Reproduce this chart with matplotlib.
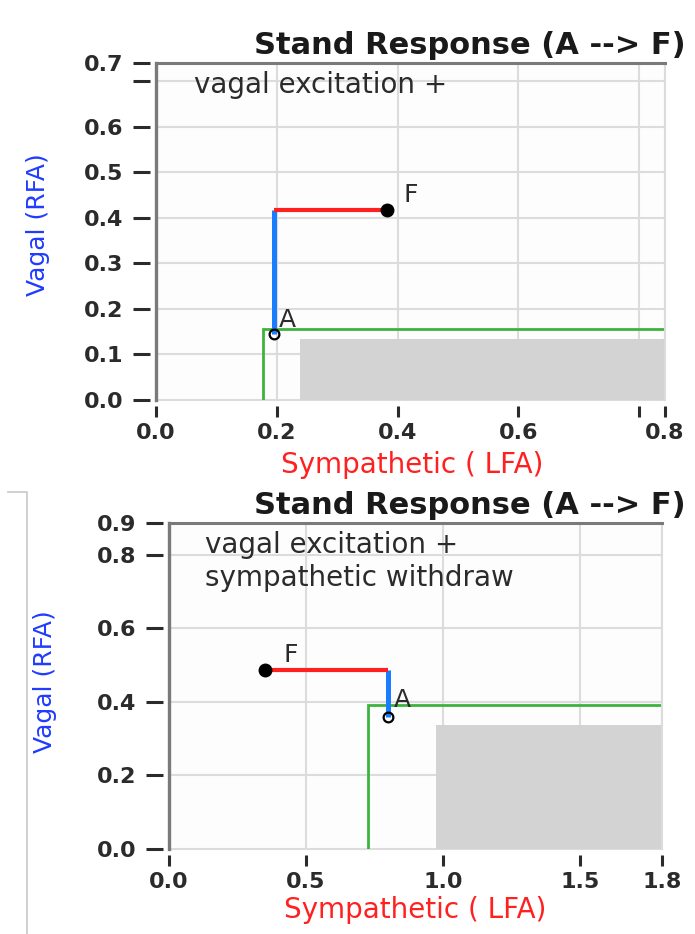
"""Two 'Stand Response (A --> F)' panels: vagal vs sympathetic activity."""

import matplotlib.pyplot as plt
from matplotlib.lines import Line2D
from matplotlib.patches import Rectangle

# ---------------------------------------------------------------------------
# Data
# ---------------------------------------------------------------------------
TITLE = "Stand Response (A --> F)"
XLABEL = "Sympathetic ( LFA)"
YLABEL = "Vagal (RFA)"

# top panel
top_note = "vagal excitation +"
top_xlim = (0.0, 0.843)
top_ylim = (0.0, 0.74)
top_xticks = [0.0, 0.2, 0.4, 0.6, 0.8, 0.843]
top_xticklabels = ["0.0", "0.2", "0.4", "0.6", "", "0.8"]
top_yticks = [0.0, 0.1, 0.2, 0.3, 0.4, 0.5, 0.6, 0.7, 0.74]
top_yticklabels = ["0.0", "0.1", "0.2", "0.3", "0.4", "0.5", "0.6", "", "0.7"]
top_a = (0.195, 0.144)
top_f = (0.383, 0.417)
top_corner = (0.195, 0.417)
top_green = (0.178, 0.155)
top_gray = (0.238, 0.135)

# bottom panel
bot_note = "vagal excitation +\nsympathetic withdraw"
bot_xlim = (0.0, 1.8)
bot_ylim = (0.0, 0.886)
bot_xticks = [0.0, 0.5, 1.0, 1.5, 1.8]
bot_xticklabels = ["0.0", "0.5", "1.0", "1.5", "1.8"]
bot_yticks = [0.0, 0.2, 0.4, 0.6, 0.8, 0.886]
bot_yticklabels = ["0.0", "0.2", "0.4", "0.6", "0.8", "0.9"]
bot_a = (0.799, 0.359)
bot_f = (0.352, 0.486)
bot_corner = (0.799, 0.486)
bot_green = (0.725, 0.392)
bot_gray = (0.974, 0.338)

BLUE = "#1a7dff"
RED = "#ff2020"
GREEN = "#3db33d"
GRAY_FILL = "#d3d3d3"
GRID = "#dcdcdc"
SPINE = "#7a7a7a"
TEXT = "#2b2b2b"

W, H = 695, 934


def _frac(left, top, right, bottom):
    return [left / W, 1 - bottom / H, (right - left) / W, (bottom - top) / H]


def draw_panel(ax, note, xlim, ylim, xticks, xticklabels, yticks, yticklabels,
               a, f, corner, green, gray, a_off, f_off):
    ax.set_xlim(*xlim)
    ax.set_ylim(*ylim)
    ax.set_facecolor("#fdfdfd")

    # grid
    for xv in xticks[1:]:
        ax.axvline(xv, color=GRID, lw=1.5, zorder=0)
    for yv in yticks[1:-1]:
        ax.axhline(yv, color=GRID, lw=1.5, zorder=0)
    ax.axhline(ylim[0], color=GRID, lw=1.5, zorder=0, clip_on=False)

    # spines: thick dark left/top, light right; ticks sit a few px off the frame
    ax.spines["right"].set_color(GRID)
    ax.spines["right"].set_linewidth(1.5)
    ax.spines["top"].set_color(SPINE)
    ax.spines["top"].set_linewidth(2.2)
    for side in ("left", "bottom"):
        ax.spines[side].set_position(("outward", 4.5))
        ax.spines[side].set_visible(False)
    ax.add_line(Line2D([0, 0], [0, 1], transform=ax.transAxes, color=SPINE,
                       lw=2.4, clip_on=False, zorder=5))

    # gray region and green threshold
    ax.add_patch(Rectangle((gray[0], 0), xlim[1] - gray[0], gray[1],
                           facecolor=GRAY_FILL, edgecolor="none", zorder=1))
    ax.plot([green[0], green[0], xlim[1]], [0, green[1], green[1]],
            color=GREEN, lw=2.0, zorder=2, solid_joinstyle="miter")

    # path A -> corner -> F
    ax.plot([a[0], corner[0]], [a[1], corner[1]], color=BLUE, lw=3.6, zorder=3,
            solid_capstyle="butt")
    ax.plot([corner[0], f[0]], [corner[1], f[1]], color=RED, lw=3.0, zorder=3,
            solid_capstyle="butt")
    ax.plot(*f, "o", color="black", ms=9, zorder=4)
    ax.plot(*a, "o", mfc="none", mec="black", mew=1.6, ms=7, zorder=4)
    ax.annotate("A", a, xytext=a_off, textcoords="offset points",
                fontsize=18, color=TEXT, zorder=6)
    ax.annotate("F", f, xytext=f_off, textcoords="offset points",
                fontsize=18, color=TEXT, zorder=6)

    ax.text(0.074, 0.975, note, transform=ax.transAxes, fontsize=20,
            color=TEXT, va="top", ha="left", linespacing=1.2)

    # ticks
    ax.set_xticks(xticks)
    ax.set_xticklabels(xticklabels)
    ax.set_yticks(yticks)
    ax.set_yticklabels(yticklabels)
    ax.tick_params(axis="y", direction="out", length=12, width=2.2,
                   color=TEXT, pad=7, labelsize=16, labelcolor=TEXT)
    ax.tick_params(axis="x", direction="out", length=8, width=2.2,
                   color=TEXT, pad=4, labelsize=16, labelcolor=TEXT)
    for lab in ax.get_xticklabels() + ax.get_yticklabels():
        lab.set_fontweight("bold")


fig = plt.figure(figsize=(W / 100, H / 100), dpi=100)

ax1 = fig.add_axes(_frac(156, 63, 665, 400))
draw_panel(ax1, top_note, top_xlim, top_ylim, top_xticks, top_xticklabels,
           top_yticks, top_yticklabels, top_a, top_f, top_corner, top_green,
           top_gray, (4, 5), (12, 6))

ax2 = fig.add_axes(_frac(169, 523, 662, 849))
draw_panel(ax2, bot_note, bot_xlim, bot_ylim, bot_xticks, bot_xticklabels,
           bot_yticks, bot_yticklabels, bot_a, bot_f, bot_corner, bot_green,
           bot_gray, (4, 7), (13, 6))

# titles and axis labels in figure pixels
for ty in (45, 505):
    fig.text(686 / W, 1 - ty / H, TITLE, fontsize=22, fontweight="bold",
             color="#1a1a1a", ha="right", va="center")
for cx, cy in ((412, 465), (415, 910)):
    fig.text(cx / W, 1 - cy / H, XLABEL, fontsize=20, color=RED,
             ha="center", va="center")
for cx, cy in ((38, 225), (45, 682)):
    fig.text(cx / W, 1 - cy / H, YLABEL, fontsize=18, color="#1f3cff",
             ha="center", va="center", rotation=90)

# thin frame line at the left of the lower panel
fig.add_artist(Line2D([8 / W, 27 / W, 27 / W], [1 - 492 / H, 1 - 492 / H, 0],
                      color="#c8c8c8", lw=1.2))

fig.savefig("out.png", dpi=100)
